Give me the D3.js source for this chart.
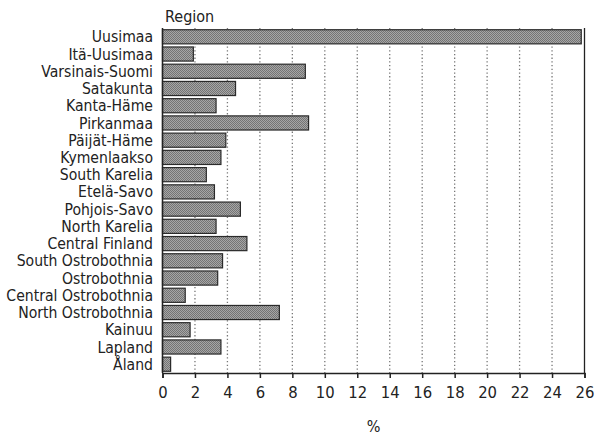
<!DOCTYPE html>
<html><head><meta charset="utf-8">
<script src="https://cdn.jsdelivr.net/npm/d3@7"></script>
<style>body{margin:0;background:#fff}svg{display:block}</style>
</head><body>
<script>
const regions = ["Uusimaa","Itä-Uusimaa","Varsinais-Suomi","Satakunta","Kanta-Häme","Pirkanmaa","Päijät-Häme","Kymenlaakso","South Karelia","Etelä-Savo","Pohjois-Savo","North Karelia","Central Finland","South Ostrobothnia","Ostrobothnia","Central Ostrobothnia","North Ostrobothnia","Kainuu","Lapland","Åland"];
const values = [25.8,1.9,8.8,4.5,3.3,9.0,3.9,3.6,2.7,3.2,4.8,3.3,5.2,3.7,3.4,1.4,7.2,1.7,3.6,0.5];
const xTicks = [0,2,4,6,8,10,12,14,16,18,20,22,24,26];
const yTitle = "Region";
const xTitle = "%";

(function(){
const W = 595, H = 438;
const mLeft = 162.5, mRight = 584.5, mTop = 28, mBottom = 373;
const font = "'DejaVu Sans Condensed', 'DejaVu Sans', sans-serif";

const svg = d3.select("body").append("svg").attr("width", W).attr("height", H);
const defs = svg.append("defs");
const pat = defs.append("pattern").attr("id","stip").attr("width",2).attr("height",2).attr("patternUnits","userSpaceOnUse");
pat.append("rect").attr("width",2).attr("height",2).attr("fill","#a6a6a6");
pat.append("rect").attr("width",1).attr("height",1).attr("fill","#747474");
pat.append("rect").attr("x",1).attr("y",1).attr("width",1).attr("height",1).attr("fill","#747474");

const x = d3.scaleLinear().domain([0,26]).range([mLeft, mRight]);
const y = d3.scaleBand().domain(regions).range([mTop, mBottom]).paddingInner(0.18).paddingOuter(0.1);

svg.append("g").selectAll("line").data(xTicks.filter(t => t > 0 && t < 26)).join("line")
  .attr("x1", d => x(d)).attr("x2", d => x(d)).attr("y1", mTop).attr("y2", mBottom)
  .attr("stroke", "#777").attr("stroke-width", 1.3).attr("stroke-dasharray", "1.3,2.4");

svg.append("g").selectAll("rect").data(values).join("rect")
  .attr("x", x(0)).attr("y", (d,i) => y(regions[i]))
  .attr("width", d => x(d) - x(0)).attr("height", y.bandwidth())
  .attr("fill", "url(#stip)").attr("stroke", "#2a2a2a").attr("stroke-width", 1.2);

svg.append("line").attr("x1", mRight).attr("x2", mRight).attr("y1", mTop).attr("y2", mBottom)
  .attr("stroke", "#222").attr("stroke-width", 1.3);
svg.append("line").attr("x1", mLeft).attr("x2", mLeft).attr("y1", mTop).attr("y2", mBottom)
  .attr("stroke", "#222").attr("stroke-width", 1.5);

const xa = svg.append("g").attr("transform", `translate(0,${mBottom})`)
  .call(d3.axisBottom(x).tickValues(xTicks).tickSize(5).tickPadding(8).tickFormat(d3.format("d")));
xa.select(".domain").attr("stroke", "#222").attr("stroke-width", 1.5);
xa.selectAll(".tick line").attr("stroke", "#222").attr("stroke-width", 1.5);
xa.selectAll(".tick text").attr("font-family", font).attr("font-size", 16.5).attr("fill", "#222");

svg.append("g").selectAll("text").data(regions).join("text")
  .attr("x", 153).attr("y", d => y(d) + y.bandwidth()/2)
  .attr("dy", "0.36em").attr("text-anchor", "end")
  .attr("font-family", font).attr("font-size", 15.6).attr("fill", "#222")
  .text(d => d);

svg.append("text").attr("x", 165).attr("y", 22).attr("font-family", font).attr("font-size", 16).attr("fill", "#222").text(yTitle);
svg.append("text").attr("x", (mLeft+mRight)/2).attr("y", 432).attr("text-anchor","middle").attr("font-family", font).attr("font-size", 16).attr("fill", "#222").text(xTitle);
})();
</script>
</body></html>
